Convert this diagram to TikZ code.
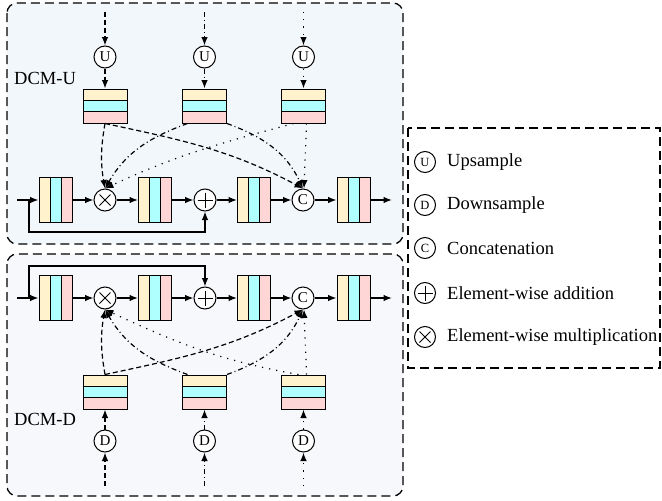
\documentclass[tikz,border=0pt]{standalone}
\usepackage{fontspec}
\setmainfont{Liberation Serif}
\usetikzlibrary{arrows.meta,calc}
\definecolor{fyel}{HTML}{FFF2CC}
\definecolor{fcyn}{HTML}{B0FFFF}
\definecolor{fpnk}{HTML}{FFD6D6}
\definecolor{panelA}{HTML}{F2F7FC}
\definecolor{panelB}{HTML}{F7F8FC}
\tikzset{
 ln/.style={line width=1.2pt},
 arr/.style={ln, -{Latex[length=8.5pt,width=6.5pt]}},
 dsh/.style={dash pattern=on 5pt off 3pt},
 ddot/.style={dash pattern=on 5pt off 3pt on 1pt off 3pt},
 dotl/.style={dash pattern=on 1.2pt off 6pt},
 panel/.style={line width=1.3pt, dash pattern=on 9pt off 5pt, rounded corners=10pt},
 opc/.style={circle, draw, line width=1pt, fill=white, minimum size=22pt, inner sep=0pt, font=\fontsize{15}{15}\selectfont},
 lopc/.style={opc, minimum size=21pt, font=\fontsize{12.5}{12.5}\selectfont},
 boxo/.style={draw, line width=1pt, inner sep=0pt},
 lbl/.style={font=\fontsize{18.5}{20}\selectfont, inner sep=0pt}
}
\newcommand\fmV[3]{%
 \fill[fyel] (#2-16.5,#3-22.5) rectangle (#2-5.5,#3+22.5);
 \fill[fcyn] (#2-5.5,#3-22.5) rectangle (#2+5.5,#3+22.5);
 \fill[fpnk] (#2+5.5,#3-22.5) rectangle (#2+16.5,#3+22.5);
 \draw[line width=1pt] (#2-5.5,#3-22.5) -- (#2-5.5,#3+22.5) (#2+5.5,#3-22.5) -- (#2+5.5,#3+22.5);
 \node[boxo, minimum width=33pt, minimum height=45pt] (#1) at (#2,#3) {};
}
\newcommand\fmH[3]{%
 \fill[fyel] (#2-22,#3+17) rectangle (#2+22,#3+5.667);
 \fill[fcyn] (#2-22,#3+5.667) rectangle (#2+22,#3-5.667);
 \fill[fpnk] (#2-22,#3-5.667) rectangle (#2+22,#3-17);
 \draw[line width=1pt] (#2-22,#3+5.667) -- (#2+22,#3+5.667) (#2-22,#3-5.667) -- (#2+22,#3-5.667);
 \node[boxo, minimum width=44pt, minimum height=34pt] (#1) at (#2,#3) {};
}
\newcommand\mulsign[1]{\draw[line width=1pt] ([shift={(-5.5,-5.5)}]#1.center) -- ([shift={(5.5,5.5)}]#1.center) ([shift={(-5.5,5.5)}]#1.center) -- ([shift={(5.5,-5.5)}]#1.center);}
\newcommand\addsign[1]{\draw[line width=1pt] ([shift={(-7.5,0)}]#1.center) -- ([shift={(7.5,0)}]#1.center) ([shift={(0,7.5)}]#1.center) -- ([shift={(0,-7.5)}]#1.center);}
\begin{document}
\begin{tikzpicture}[x=1pt,y=1pt]
\useasboundingbox (0,0) rectangle (662,-501);
% panels
\draw[panel, fill=panelA] (7,-3) rectangle (403,-244);
\draw[panel, fill=panelB] (7,-254) rectangle (403,-496);
\draw[line width=1.3pt, dash pattern=on 9pt off 5pt] (408,-128) rectangle (660,-368);

% ---------- top panel (DCM-U) ----------
\node[lbl, anchor=west] (lu) at (14,-78) {DCM-U};
\fmV{b1}{55.5}{-200}
\node[opc] (mul) at (105,-200) {}; \mulsign{mul}
\fmV{b2}{155}{-200}
\node[opc] (add) at (205,-200) {}; \addsign{add}
\fmV{b3}{254}{-200}
\node[opc] (cat) at (303,-200) {C};
\fmV{b4}{353.5}{-200}
\fmH{h1}{105}{-106}
\fmH{h2}{204.5}{-106}
\fmH{h3}{303.5}{-106}
\node[opc] (u1) at (105,-57) {U};
\node[opc] (u2) at (204.5,-57) {U};
\node[opc] (u3) at (303.5,-57) {U};
\coordinate (ti1) at (105,-12);
\coordinate (ti2) at (204.5,-12);
\coordinate (ti3) at (303.5,-12);
\coordinate (tin) at (17,-200);
\coordinate (tsk) at (29,-200);
\coordinate (tout) at (392,-200);

\draw[arr] (tin) -- (b1);
\draw[arr] (b1) -- (mul);
\draw[arr] (mul) -- (b2);
\draw[arr] (b2) -- (add);
\draw[arr] (add) -- (b3);
\draw[arr] (b3) -- (cat);
\draw[arr] (cat) -- (b4);
\draw[arr] (b4) -- (tout);
\draw[arr] (tsk) -- ++(0,-32) -| (add);

\draw[arr,dsh] (ti1) -- (u1);
\draw[arr,dsh] (u1) -- (h1);
\draw[arr,ddot] (ti2) -- (u2);
\draw[arr,ddot] (u2) -- (h2);
\draw[arr,dotl] (ti3) -- (u3);
\draw[arr,dotl] (u3) -- (h3);

\draw[arr,dsh] (h1.south) to[out=-100,in=100] (mul.north);
\draw[arr,dsh] (h1.south) to[out=-12,in=152] (cat.north);
\draw[arr,ddot] ([xshift=-17pt]h2.south) to[out=200,in=60] (mul.north);
\draw[arr,ddot] (h2.south east) to[out=-20,in=115] (cat.north);
\draw[arr,dotl] ([xshift=-10pt]h3.south) to[out=195,in=25] (mul.north);
\draw[arr,dotl] ([xshift=3pt]h3.south) -- ([xshift=1pt]cat.north);

% ---------- bottom panel (DCM-D) ----------
\node[lbl, anchor=west] (ld) at (14,-419) {DCM-D};
\fmV{c1}{55.5}{-298}
\node[opc] (mulB) at (105,-298) {}; \mulsign{mulB}
\fmV{c2}{155}{-298}
\node[opc] (addB) at (205,-298) {}; \addsign{addB}
\fmV{c3}{254}{-298}
\node[opc] (catB) at (303,-298) {C};
\fmV{c4}{353.5}{-298}
\fmH{g1}{105}{-392}
\fmH{g2}{204.5}{-392}
\fmH{g3}{303.5}{-392}
\node[opc] (d1) at (105,-441) {D};
\node[opc] (d2) at (204.5,-441) {D};
\node[opc] (d3) at (303.5,-441) {D};
\coordinate (bi1) at (105,-486);
\coordinate (bi2) at (204.5,-486);
\coordinate (bi3) at (303.5,-486);
\coordinate (bin) at (17,-298);
\coordinate (bsk) at (29,-298);
\coordinate (bout) at (392,-298);

\draw[arr] (bin) -- (c1);
\draw[arr] (c1) -- (mulB);
\draw[arr] (mulB) -- (c2);
\draw[arr] (c2) -- (addB);
\draw[arr] (addB) -- (c3);
\draw[arr] (c3) -- (catB);
\draw[arr] (catB) -- (c4);
\draw[arr] (c4) -- (bout);
\draw[arr] (bsk) -- ++(0,32) -| (addB);

\draw[arr,dsh] (bi1) -- (d1);
\draw[arr,dsh] (d1) -- (g1);
\draw[arr,ddot] (bi2) -- (d2);
\draw[arr,ddot] (d2) -- (g2);
\draw[arr,dotl] (bi3) -- (d3);
\draw[arr,dotl] (d3) -- (g3);

\draw[arr,dsh] (g1.north) to[out=100,in=-100] (mulB.south);
\draw[arr,dsh] (g1.north) to[out=12,in=-152] (catB.south);
\draw[arr,ddot] ([xshift=-17pt]g2.north) to[out=160,in=-60] (mulB.south);
\draw[arr,ddot] (g2.north east) to[out=20,in=-115] (catB.south);
\draw[arr,dotl] ([xshift=-5pt]g3.north) to[out=170,in=-25] (mulB.south);
\draw[arr,dotl] ([xshift=3pt]g3.north) -- ([xshift=1pt]catB.south);

% ---------- legend ----------
\node[lopc] (lgU) at (425,-162) {U};
\node[lbl, anchor=west] (ltU) at (447,-162) {Upsample};
\node[lopc] (lgD) at (425,-205) {D};
\node[lbl, anchor=west] (ltD) at (447,-205) {Downsample};
\node[lopc] (lgC) at (425,-248) {C};
\node[lbl, anchor=west] (ltC) at (447,-248) {Concatenation};
\node[lopc] (lgA) at (425,-293) {}; \addsign{lgA}
\node[lbl, anchor=west] (ltA) at (447,-293) {Element-wise addition};
\node[lopc] (lgM) at (425,-337) {}; \mulsign{lgM}
\node[lbl, anchor=west] (ltM) at (447,-337) {Element-wise multiplication};
\end{tikzpicture}
\end{document}
